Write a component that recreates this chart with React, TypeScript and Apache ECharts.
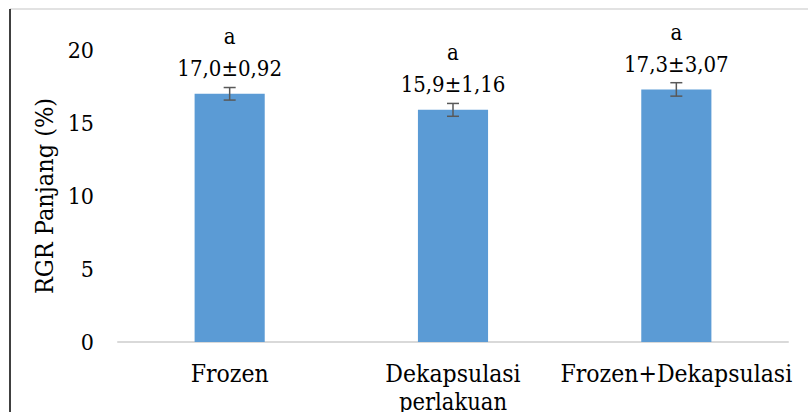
import React, { useEffect, useRef } from "react";
import * as echarts from "echarts";

const categories = ["Frozen", "Dekapsulasi", "Frozen+Dekapsulasi"];
const values = [17.0, 15.9, 17.3];
const sdValues = [0.92, 1.16, 3.07];
const errorBars = [0.43, 0.44, 0.46];
const letters = ["a", "a", "a"];
const yTicks = { min: 0, max: 20, interval: 5 };
const xAxisTitle = "perlakuan";
const yAxisTitle = "RGR Panjang (%)";

const FONT = "DejaVu Serif Condensed";

const fmt = (v: number, d: number) => v.toFixed(d).replace(".", ",");

export default function App() {
  const ref = useRef<HTMLDivElement>(null);
  useEffect(() => {
    if (!ref.current) return;
    const chart = echarts.init(ref.current, null, { renderer: "svg" });
    chart.setOption({
      animation: false,
      backgroundColor: "#ffffff",
      textStyle: { fontFamily: FONT },
      grid: {
        left: 118,
        right: 20,
        top: 50,
        bottom: 70,
        containLabel: false,
        outerBoundsMode: "none",
      },
      graphic: [
        {
          type: "line",
          shape: { x1: 10, y1: 9, x2: 808, y2: 9 },
          style: { stroke: "#d9d9d9", lineWidth: 1.5 },
          silent: true,
        },
        {
          type: "line",
          shape: { x1: 10, y1: 9, x2: 10, y2: 412 },
          style: { stroke: "#000000", lineWidth: 1.5 },
          silent: true,
        },
      ],
      xAxis: {
        type: "category",
        data: categories,
        name: xAxisTitle,
        nameLocation: "middle",
        nameGap: 40,
        nameTextStyle: { fontFamily: FONT, fontSize: 23.5, color: "#000", lineHeight: 23 },
        axisLine: { show: true, lineStyle: { color: "#d9d9d9", width: 2 } },
        axisTick: { show: false },
        axisLabel: {
          fontFamily: FONT,
          fontSize: 24.5,
          color: "#000",
          margin: 19,
          lineHeight: 24,
          interval: 0,
        },
      },
      yAxis: {
        type: "value",
        min: yTicks.min,
        max: yTicks.max,
        interval: yTicks.interval,
        name: yAxisTitle,
        nameLocation: "middle",
        nameGap: 58,
        nameRotate: 90,
        nameTextStyle: { fontFamily: FONT, fontSize: 25, color: "#000" },
        axisLine: { show: false },
        axisTick: { show: false },
        splitLine: { show: false },
        axisLabel: { fontFamily: FONT, fontSize: 23, color: "#000", margin: 24 },
      },
      series: [
        {
          type: "bar",
          data: values,
          barWidth: "31.4%",
          itemStyle: { color: "#5b9bd5" },
          label: {
            show: true,
            position: "top",
            distance: 9,
            fontFamily: FONT,
            fontSize: 22,
            color: "#000",
            lineHeight: 32,
            formatter: (p: any) =>
              `${letters[p.dataIndex]}\n${fmt(values[p.dataIndex], 1)}±${fmt(
                sdValues[p.dataIndex],
                2
              )}`,
          },
          z: 2,
        },
        {
          type: "custom",
          data: values.map((v, i) => [i, v - errorBars[i], v + errorBars[i]]),
          z: 3,
          renderItem: (params: any, api: any) => {
            const x = api.value(0);
            const lo = api.coord([x, api.value(1)]);
            const hi = api.coord([x, api.value(2)]);
            const hw = 6;
            const style = { stroke: "#595959", lineWidth: 1.5 };
            return {
              type: "group",
              children: [
                { type: "line", shape: { x1: lo[0], y1: lo[1], x2: hi[0], y2: hi[1] }, style },
                { type: "line", shape: { x1: hi[0] - hw, y1: hi[1], x2: hi[0] + hw, y2: hi[1] }, style },
                { type: "line", shape: { x1: lo[0] - hw, y1: lo[1], x2: lo[0] + hw, y2: lo[1] }, style },
              ],
            };
          },
        },
      ],
    });
    return () => chart.dispose();
  }, []);
  return (
    <div
      ref={ref}
      style={{ position: "absolute", left: 0, top: 0, width: 808, height: 412 }}
    />
  );
}
